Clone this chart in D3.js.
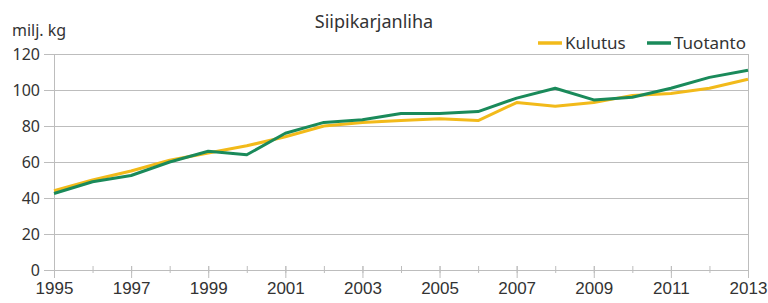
<!DOCTYPE html>
<html lang="fi">
<head>
<meta charset="utf-8">
<title>Siipikarjanliha</title>
<style>
  body { margin: 0; background: #fff; }
  svg { display: block; font-family: "Noto Sans", "Open Sans", sans-serif; }
  .grid line { stroke: #bdbdbd; stroke-width: 1; shape-rendering: crispEdges; }
  .tick text { fill: #333; font-size: 17px; }
</style>
</head>
<body>
<div id="chart"></div>
<script src="https://cdnjs.cloudflare.com/ajax/libs/d3/7.8.5/d3.min.js"></script>
<script>
// years and values (milj. kg)
var years = d3.range(1995, 2014);
var kulutus = [44, 50, 55, 61, 65, 69, 74, 80, 82, 83, 84, 83, 93, 91, 93, 97, 98, 101, 106];
var tuotanto = [42.5, 49, 52.5, 60, 66, 64, 76, 82, 83.5, 87, 87, 88, 95.5, 101, 94.5, 96, 101, 107, 111];
var yTicks = [0, 20, 40, 60, 80, 100, 120];
var xTickYears = [1995, 1997, 1999, 2001, 2003, 2005, 2007, 2009, 2011, 2013];

var series = [
  { name: "Kulutus", values: kulutus, color: "#f2ba1a" },
  { name: "Tuotanto", values: tuotanto, color: "#1a8a5a" }
];

var W = 768, H = 303;
// plot box (don't call it "top", that clashes with window.top)
var plot = { left: 54, right: 748, top: 54, bottom: 270 };

var svg = d3.select("#chart").append("svg")
  .attr("width", W)
  .attr("height", H);

var x = d3.scaleLinear().domain([1995, 2013]).range([plot.left, plot.right]);
var y = d3.scaleLinear().domain([0, 120]).range([plot.bottom, plot.top]);

// horizontal grid lines, poking out a bit left of the axis
svg.append("g")
  .attr("class", "grid")
  .selectAll("line")
  .data(yTicks)
  .join("line")
  .attr("x1", plot.left - 10)
  .attr("x2", plot.right)
  .attr("y1", d => Math.round(y(d)) + 0.5)
  .attr("y2", d => Math.round(y(d)) + 0.5);

// left and right frame lines
svg.append("g").attr("class", "grid")
  .selectAll("line")
  .data([plot.left, plot.right])
  .join("line")
  .attr("x1", d => d + 0.5)
  .attr("x2", d => d + 0.5)
  .attr("y1", plot.top)
  .attr("y2", (d, i) => i === 0 ? plot.bottom + 5 : plot.bottom);

// y labels
svg.append("g")
  .selectAll("text")
  .data(yTicks)
  .join("text")
  .attr("x", plot.left - 14)
  .attr("y", d => y(d) + 6)
  .attr("text-anchor", "end")
  .attr("fill", "#333")
  .style("font-size", "16px")
  .text(d => d);

// x axis: major ticks on odd years, minor on every year
var xMinor = d3.axisBottom(x).tickValues(years).tickSize(3).tickFormat("");
var gMinor = svg.append("g").attr("transform", "translate(0," + plot.bottom + ")").call(xMinor);
gMinor.select(".domain").remove();
gMinor.selectAll(".tick line").attr("stroke", "#bdbdbd").attr("y1", -4);

var xAxis = d3.axisBottom(x).tickValues(xTickYears).tickSize(8).tickPadding(4).tickFormat(d3.format("d"));
var gx = svg.append("g").attr("transform", "translate(0," + plot.bottom + ")").call(xAxis);
gx.select(".domain").remove();
gx.selectAll(".tick line").attr("stroke", "#bdbdbd").attr("y1", -4);
gx.selectAll(".tick text").attr("dy", "0.71em");

// lines
var line = d3.line()
  .x((d, i) => x(years[i]))
  .y(d => y(d));

svg.append("g")
  .selectAll("path")
  .data(series)
  .join("path")
  .attr("fill", "none")
  .attr("stroke", d => d.color)
  .attr("stroke-width", 3)
  .attr("stroke-linejoin", "round")
  .attr("d", d => line(d.values));

// title and unit
svg.append("text")
  .attr("x", 374)
  .attr("y", 28)
  .attr("text-anchor", "middle")
  .attr("fill", "#333")
  .style("font-size", "18px")
  .text("Siipikarjanliha");

svg.append("text")
  .attr("x", 12)
  .attr("y", 36)
  .attr("fill", "#333")
  .style("font-size", "16px")
  .text("milj. kg");

// legend
var legendX = [538, 647];
var leg = svg.append("g")
  .selectAll("g")
  .data(series)
  .join("g")
  .attr("transform", (d, i) => "translate(" + legendX[i] + ",43)");
leg.append("line")
  .attr("x1", 0).attr("x2", 24)
  .attr("stroke", d => d.color)
  .attr("stroke-width", 3.5);
leg.append("text")
  .attr("x", 27)
  .attr("y", 6)
  .attr("fill", "#333")
  .style("font-size", "17px")
  .text(d => d.name);
</script>
</body>
</html>
